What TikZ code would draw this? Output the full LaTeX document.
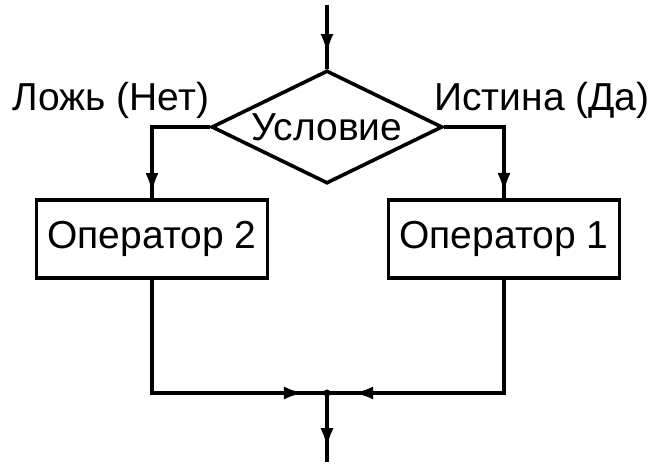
\documentclass[tikz,border=0pt]{standalone}
\usepackage{fontspec}
\setmainfont{Liberation Sans}
\usetikzlibrary{shapes.geometric,arrows.meta,decorations.markings}
\begin{document}
\begin{tikzpicture}[x=0.5pt,y=-0.5pt,
  line width=1.8pt,
  font=\fontsize{19.5}{21}\selectfont,
  opbox/.style={draw,rectangle,minimum width=115.5pt,minimum height=39pt,inner sep=0pt},
  condbox/.style={draw,diamond,aspect=2.04,minimum width=115.5pt,minimum height=56.5pt,inner sep=0pt},
  lbl/.style={inner sep=0pt},
  arrowat/.style={postaction={decorate},decoration={markings,
    mark=at position #1 with {\arrow{Latex[length=10pt,width=6.5pt]}}}}]
  \useasboundingbox (0,0) rectangle (659,464);

  % decision and the two operators
  \node[condbox] (cond) at (327,127) {Условие};
  \node[opbox] (op2) at (152,239) {Оператор 2};
  \node[opbox] (op1) at (504,239) {Оператор 1};

  % branch labels
  \node[lbl] (no) at (111,100) {Ложь (Нет)};
  \node[lbl] (yes) at (542,100) {Истина (Да)};

  % entry, junction and exit points
  \coordinate (in) at (327,5);
  \coordinate (join) at (327,393);
  \coordinate (out) at (327,462);

  % connectors
  \draw[arrowat=0.77] (in) -- (cond.north);
  \draw[arrowat=0.96] (cond.west) -| (op2.north);
  \draw[arrowat=0.96] (cond.east) -| (op1.north);
  \draw[arrowat=0.92] (op2.south) |- (join);
  \draw[arrowat=0.91] (op1.south) |- (join);
  \draw[arrowat=0.8] (join) -- (out);
  \fill (join) circle (3.5);
\end{tikzpicture}
\end{document}
